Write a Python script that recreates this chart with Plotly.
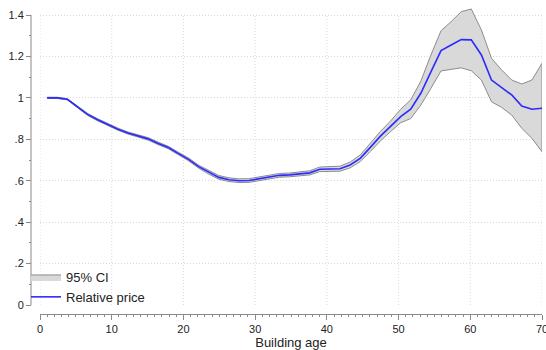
import plotly.graph_objects as go

# Building age (x) for each estimate
ages = [1.00, 2.41, 3.82, 5.22, 6.63, 8.04, 9.45, 10.86, 12.27, 13.67,
        15.08, 16.49, 17.90, 19.31, 20.71, 22.12, 23.53, 24.94, 26.35, 27.76,
        29.16, 30.57, 31.98, 33.39, 34.80, 36.20, 37.61, 39.02, 40.43, 41.84,
        43.24, 44.65, 46.06, 47.47, 48.88, 50.29, 51.69, 53.10, 54.51, 55.92,
        57.33, 58.73, 60.14, 61.55, 62.96, 64.37, 65.78, 67.18, 68.59, 70.00]

relative_price = [1.000, 1.000, 0.993, 0.957, 0.920, 0.894, 0.870, 0.849, 0.830, 0.816,
                  0.802, 0.780, 0.760, 0.731, 0.703, 0.668, 0.640, 0.616, 0.605, 0.600,
                  0.601, 0.609, 0.618, 0.626, 0.628, 0.632, 0.638, 0.655, 0.656, 0.658,
                  0.676, 0.708, 0.761, 0.815, 0.862, 0.909, 0.945, 1.022, 1.125, 1.228,
                  1.255, 1.281, 1.280, 1.207, 1.086, 1.050, 1.014, 0.961, 0.945, 0.950]

ci_lower = [0.997, 0.997, 0.990, 0.953, 0.915, 0.889, 0.865, 0.844, 0.825, 0.811,
            0.796, 0.774, 0.754, 0.725, 0.696, 0.661, 0.632, 0.607, 0.596, 0.591,
            0.592, 0.600, 0.609, 0.617, 0.619, 0.622, 0.628, 0.644, 0.645, 0.646,
            0.662, 0.692, 0.741, 0.792, 0.837, 0.880, 0.900, 0.965, 1.046, 1.130,
            1.137, 1.145, 1.131, 1.086, 0.981, 0.954, 0.917, 0.853, 0.805, 0.740]

ci_upper = [1.003, 1.003, 0.996, 0.961, 0.925, 0.899, 0.875, 0.854, 0.835, 0.821,
            0.808, 0.786, 0.766, 0.737, 0.710, 0.675, 0.648, 0.625, 0.614, 0.609,
            0.610, 0.618, 0.627, 0.635, 0.637, 0.642, 0.648, 0.666, 0.667, 0.670,
            0.690, 0.724, 0.781, 0.838, 0.888, 0.945, 0.990, 1.080, 1.207, 1.324,
            1.368, 1.416, 1.429, 1.328, 1.191, 1.135, 1.086, 1.067, 1.086, 1.167]

x_tick_vals = [0, 10, 20, 30, 40, 50, 60, 70]
x_tick_text = ["0", "10", "20", "30", "40", "50", "60", "70"]
y_tick_vals = [0, 0.2, 0.4, 0.6, 0.8, 1.0, 1.2, 1.4]
y_tick_text = ["0", ".2", ".4", ".6", ".8", "1", "1.2", "1.4"]

FONT = "Liberation Sans, Arial, Helvetica, sans-serif"
AXIS_COLOR = "#8a8a8a"
GRID_COLOR = "#d8d8d8"

fig = go.Figure()

fig.add_trace(go.Scatter(
    x=ages + ages[::-1],
    y=ci_upper + ci_lower[::-1],
    fill="toself",
    fillcolor="#d9d9d9",
    line=dict(color="#8c8c8c", width=1),
    mode="lines",
    name="95% CI",
    hoverinfo="skip",
))

fig.add_trace(go.Scatter(
    x=ages,
    y=relative_price,
    mode="lines",
    line=dict(color="#2b2bff", width=1.6),
    name="Relative price",
))

W, H = 546, 350
ml, mr, mt, mb = 31, 4, 4, 36
pw = W - ml - mr
ph = H - mt - mb
y_top_px, y_zero_px = 15, 305
px_per_unit = (y_zero_px - y_top_px) / y_tick_vals[-1]
y_range_top = y_tick_vals[-1] + (y_top_px - mt) / px_per_unit

# vertical grid lines limited to the labelled y range
for xv in x_tick_vals:
    fig.add_shape(type="line", xref="x", yref="y", x0=xv, x1=xv,
                  y0=y_tick_vals[0], y1=y_tick_vals[-1], layer="below",
                  line=dict(color=GRID_COLOR, width=1, dash="1px,2px"))
# y axis line over the labelled range only
fig.add_shape(type="line", xref="paper", yref="y", x0=0, x1=0,
              y0=y_tick_vals[0], y1=y_tick_vals[-1], layer="above",
              line=dict(color=AXIS_COLOR, width=1))

fig.update_layout(
    width=W, height=H,
    margin=dict(l=ml, r=mr, t=mt, b=mb, pad=0, autoexpand=False),
    paper_bgcolor="white",
    plot_bgcolor="white",
    font=dict(family=FONT, size=11, color="#222222"),
    showlegend=True,
    legend=dict(
        x=(26 - ml) / pw, y=(H - mb - 262) / ph,
        xanchor="left", yanchor="top",
        bgcolor="rgba(255,255,255,0)",
        font=dict(family=FONT, size=13, color="#222222"),
        itemwidth=30,
        tracegroupgap=0,
    ),
    xaxis=dict(
        domain=[(40 - ml) / pw, 1],
        range=[0, 70],
        anchor="free", position=0,
        automargin=False,
        showline=True, linecolor=AXIS_COLOR, linewidth=1,
        ticks="outside", ticklen=5, tickcolor=AXIS_COLOR, tickwidth=1,
        tickvals=x_tick_vals, ticktext=x_tick_text,
        tickfont=dict(size=11, color="#222222"),
        ticklabeloverflow="allow",
        minor=dict(dtick=1, ticks="outside", ticklen=2, tickcolor=AXIS_COLOR, showgrid=False),
        showgrid=False,
        zeroline=False,
        title=dict(text="Building age", font=dict(size=13, color="#222222"), standoff=6),
    ),
    yaxis=dict(
        domain=[(H - mb - y_zero_px) / ph, 1],
        range=[0, y_range_top],
        anchor="free", position=0,
        automargin=False,
        showline=False,
        ticks="outside", ticklen=5, tickcolor=AXIS_COLOR, tickwidth=1,
        tickvals=y_tick_vals, ticktext=y_tick_text,
        tickfont=dict(size=11, color="#222222"),
        minor=dict(dtick=0.1, ticks="outside", ticklen=2, tickcolor=AXIS_COLOR, showgrid=False),
        showgrid=True, gridcolor=GRID_COLOR, griddash="1px,2px", gridwidth=1,
        zeroline=False,
    ),
)

fig.write_html("out.html", config={"displayModeBar": False},
               post_script="document.body.style.margin='0px';")
